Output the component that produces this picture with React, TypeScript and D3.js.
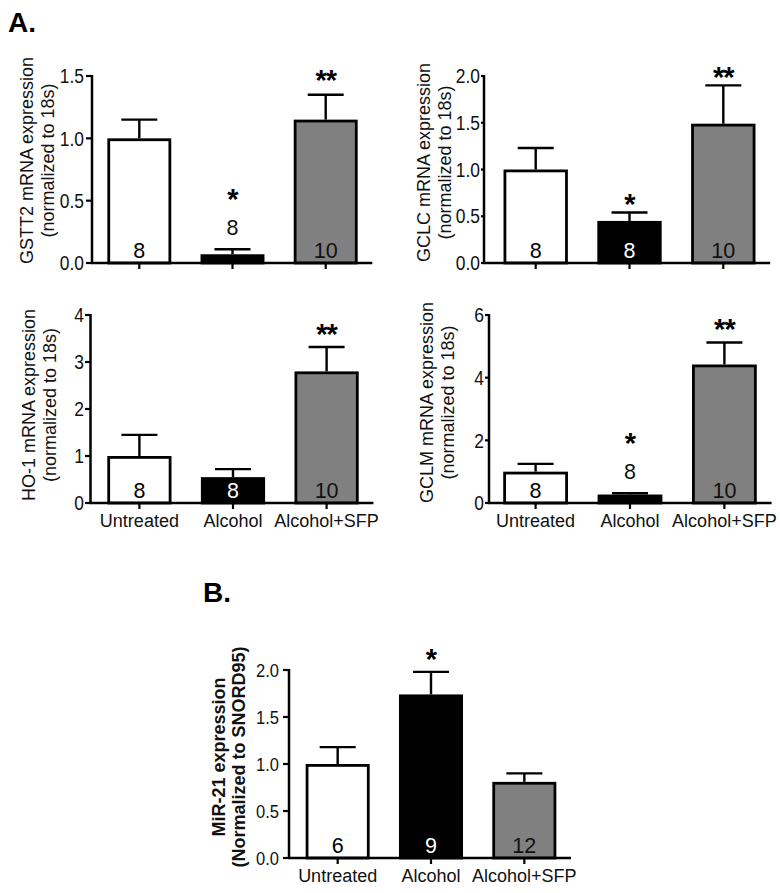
import React from "react";
import * as d3 from "d3";

const categories = ["Untreated", "Alcohol", "Alcohol+SFP"];
const barFills = ["#ffffff", "#000000", "#808080"];
const countColors = ["#000000", "#ffffff", "#111111"];

const gstt2Means = [1.0, 0.07, 1.15];
const gstt2Sem = [0.15, 0.04, 0.2];
const gstt2N = [8, 8, 10];
const gstt2Sig = ["", "*", "**"];
const gstt2Ticks = [0, 0.5, 1.0, 1.5];
const gstt2CountAbove = [false, true, false];

const gclcMeans = [1.0, 0.45, 1.49];
const gclcSem = [0.23, 0.09, 0.41];
const gclcN = [8, 8, 10];
const gclcSig = ["", "*", "**"];
const gclcTicks = [0, 0.5, 1.0, 1.5, 2.0];
const gclcCountAbove = [false, false, false];

const ho1Means = [1.0, 0.55, 2.8];
const ho1Sem = [0.45, 0.17, 0.52];
const ho1N = [8, 8, 10];
const ho1Sig = ["", "", "**"];
const ho1Ticks = [0, 1, 2, 3, 4];
const ho1CountAbove = [false, false, false];

const gclmMeans = [1.0, 0.27, 4.42];
const gclmSem = [0.25, 0.04, 0.7];
const gclmN = [8, 8, 10];
const gclmSig = ["", "*", "**"];
const gclmTicks = [0, 2, 4, 6];
const gclmCountAbove = [false, true, false];

const mir21Means = [1.0, 1.74, 0.81];
const mir21Sem = [0.18, 0.24, 0.09];
const mir21N = [6, 9, 12];
const mir21Sig = ["", "*", ""];
const mir21Ticks = [0, 0.5, 1.0, 1.5, 2.0];
const mir21CountAbove = [false, false, false];

const FONT = "'Liberation Sans', Arial, Helvetica, sans-serif";

type Cfg = {
  axisX: number;
  band: [number, number];
  yTop: number;
  yBottom: number;
  titleShift: number;
  titleBold?: boolean;
  titleSize: number;
  t1: number;
  t2: number;
  showX: boolean;
  starGap: number;
  tickSize: number;
  tickGap: number;
};

function Panel(props: {
  cfg: Cfg;
  means: number[];
  sem: number[];
  ns: number[];
  sig: string[];
  ticks: number[];
  fmt: string;
  title1: string;
  title2: string;
  countAbove: boolean[];
}) {
  const { cfg, means, sem, ns, sig, ticks, fmt, title1, title2, countAbove } = props;
  const y = d3
    .scaleLinear()
    .domain([0, ticks[ticks.length - 1]])
    .range([cfg.yBottom, cfg.yTop]);
  const x = d3
    .scaleBand<string>()
    .domain(categories)
    .range(cfg.band)
    .paddingInner(0.314)
    .paddingOuter(0.157);
  const bw = x.bandwidth();
  const f = d3.format(fmt);
  const sw = 2.8;
  const midY = (cfg.yTop + cfg.yBottom) / 2 + cfg.titleShift;
  const capW = 36;
  const starSize = 29;
  const countSize = 21.5;
  const tickLen = Math.min(6, cfg.tickGap - 1);

  return (
    <g fontFamily={FONT}>
      <g transform={`translate(${cfg.axisX + cfg.t1},${midY}) rotate(-90)`}>
        <text
          textAnchor="middle"
          fontSize={cfg.titleSize}
          fontWeight={cfg.titleBold ? "bold" : "normal"}
          fill="#111"
        >
          {title1}
        </text>
      </g>
      <g transform={`translate(${cfg.axisX + cfg.t2},${midY}) rotate(-90)`}>
        <text
          textAnchor="middle"
          fontSize={cfg.titleSize}
          fontWeight={cfg.titleBold ? "bold" : "normal"}
          fill="#111"
        >
          {title2}
        </text>
      </g>

      {categories.map((c, i) => {
        const x0 = x(c)!;
        const cx = x0 + bw / 2;
        const top = y(means[i]);
        const errTop = y(means[i] + sem[i]);
        const above = countAbove[i];
        const countY = above ? errTop - 22 : cfg.yBottom - 13;
        const starCenter = above ? errTop - 57 : errTop - cfg.starGap;
        return (
          <g key={c}>
            <line x1={cx} x2={cx} y1={top} y2={errTop} stroke="#000" strokeWidth={2.4} />
            <line
              x1={cx - capW / 2}
              x2={cx + capW / 2}
              y1={errTop}
              y2={errTop}
              stroke="#000"
              strokeWidth={2.4}
            />
            <rect
              x={x0 + sw / 2}
              y={top + sw / 2}
              width={bw - sw}
              height={Math.max(0.5, cfg.yBottom - top - sw / 2)}
              fill={barFills[i]}
              stroke="#000"
              strokeWidth={sw}
            />
            <text
              x={cx}
              y={countY}
              dy="0.36em"
              textAnchor="middle"
              fontSize={countSize}
              fill={above ? "#111" : countColors[i]}
            >
              {ns[i]}
            </text>
            {sig[i] ? (
              <text
                x={cx}
                y={starCenter + starSize * 0.58}
                textAnchor="middle"
                fontSize={starSize}
                fontWeight="bold"
                letterSpacing={-1}
                fill="#000"
              >
                {sig[i]}
              </text>
            ) : null}
          </g>
        );
      })}

      <line
        x1={cfg.axisX}
        x2={cfg.axisX}
        y1={y(ticks[ticks.length - 1]) - 1}
        y2={cfg.yBottom + 1}
        stroke="#000"
        strokeWidth={2.5}
      />
      {ticks.map((t) => (
        <g key={t}>
          <line
            x1={cfg.axisX - tickLen}
            x2={cfg.axisX}
            y1={y(t)}
            y2={y(t)}
            stroke="#000"
            strokeWidth={2.2}
          />
          <text
            transform={`translate(${cfg.axisX - cfg.tickGap},${y(t)}) scale(0.87,1)`}
            dy="0.36em"
            textAnchor="end"
            fontSize={cfg.tickSize}
            fill="#111"
          >
            {f(t)}
          </text>
        </g>
      ))}

      <line
        x1={cfg.axisX - 1}
        x2={cfg.band[1]}
        y1={cfg.yBottom}
        y2={cfg.yBottom}
        stroke="#000"
        strokeWidth={2.6}
      />
      {categories.map((c) => {
        const cx = x(c)! + bw / 2;
        return (
          <g key={"t" + c}>
            <line x1={cx} x2={cx} y1={cfg.yBottom} y2={cfg.yBottom + 6} stroke="#000" strokeWidth={2.2} />
            {cfg.showX ? (
              <text x={cx} y={cfg.yBottom + 24} textAnchor="middle" fontSize={18} fill="#111">
                {c}
              </text>
            ) : null}
          </g>
        );
      })}
    </g>
  );
}

export default function App() {
  const p1: Cfg = { axisX: 92, band: [92.7, 372.3], yTop: 76, yBottom: 263, titleShift: -9, titleSize: 18, t1: -59, t2: -38, showX: false, starGap: 22, tickSize: 20, tickGap: 8 };
  const p2: Cfg = { axisX: 484, band: [488.8, 770.2], yTop: 76, yBottom: 263, titleShift: -7, titleSize: 18, t1: -54, t2: -33, showX: false, starGap: 15, tickSize: 20, tickGap: 4 };
  const p3: Cfg = { axisX: 90.5, band: [92.6, 373.4], yTop: 315, yBottom: 503, titleShift: -4, titleSize: 18, t1: -55.5, t2: -34.5, showX: true, starGap: 20, tickSize: 20, tickGap: 6.5 };
  const p4: Cfg = { axisX: 489, band: [488.4, 771.6], yTop: 315, yBottom: 503, titleShift: -6.5, titleSize: 18, t1: -56, t2: -35, showX: true, starGap: 20, tickSize: 20, tickGap: 5 };
  const pb: Cfg = { axisX: 289, band: [291, 571], yTop: 670, yBottom: 858, titleShift: -7, titleSize: 18, titleBold: true, t1: -64, t2: -44, showX: true, starGap: 20, tickSize: 19, tickGap: 10 };

  return (
    <svg
      width={780}
      height={893}
      viewBox="0 0 780 893"
      style={{ position: "absolute", left: 0, top: 0, background: "#fff" }}
    >
      <rect x={0} y={0} width={780} height={893} fill="#fff" />
      <text x={8} y={32} fontFamily={FONT} fontWeight="bold" fontSize={28} fill="#000">
        A.
      </text>
      <text x={203} y={602} fontFamily={FONT} fontWeight="bold" fontSize={28} fill="#000">
        B.
      </text>
      <Panel cfg={p1} means={gstt2Means} sem={gstt2Sem} ns={gstt2N} sig={gstt2Sig} ticks={gstt2Ticks} fmt=".1f"
        title1="GSTT2 mRNA expression" title2="(normalized to 18s)" countAbove={gstt2CountAbove} />
      <Panel cfg={p2} means={gclcMeans} sem={gclcSem} ns={gclcN} sig={gclcSig} ticks={gclcTicks} fmt=".1f"
        title1="GCLC mRNA expression" title2="(normalized to 18s)" countAbove={gclcCountAbove} />
      <Panel cfg={p3} means={ho1Means} sem={ho1Sem} ns={ho1N} sig={ho1Sig} ticks={ho1Ticks} fmt="d"
        title1="HO-1 mRNA expression" title2="(normalized to 18s)" countAbove={ho1CountAbove} />
      <Panel cfg={p4} means={gclmMeans} sem={gclmSem} ns={gclmN} sig={gclmSig} ticks={gclmTicks} fmt="d"
        title1="GCLM mRNA expression" title2="(normalized to 18s)" countAbove={gclmCountAbove} />
      <Panel cfg={pb} means={mir21Means} sem={mir21Sem} ns={mir21N} sig={mir21Sig} ticks={mir21Ticks} fmt=".1f"
        title1="MiR-21 expression" title2="(Normalized to SNORD95)" countAbove={mir21CountAbove} />
    </svg>
  );
}
